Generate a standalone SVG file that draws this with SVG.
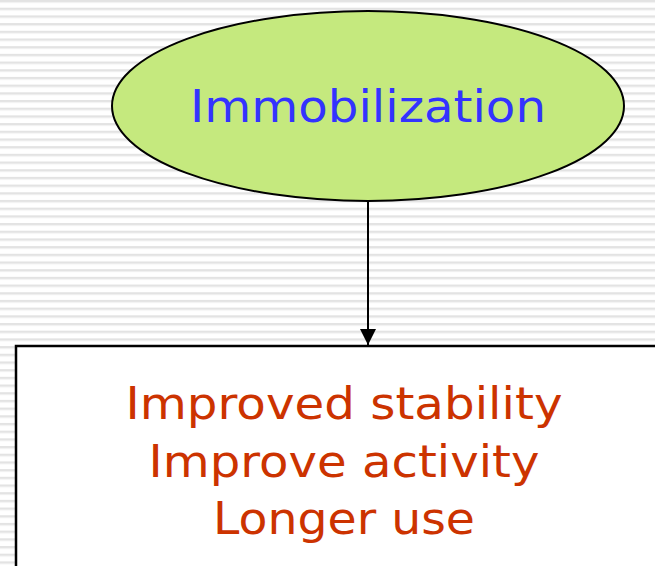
<svg xmlns="http://www.w3.org/2000/svg" width="655" height="566" viewBox="0 0 655 566">
  <defs>
    <!-- faint horizontal ruling of the slide background -->
    <pattern id="ruling" width="655" height="7.69" patternUnits="userSpaceOnUse">
      <rect x="0" y="0" width="655" height="7.69" fill="#ffffff"/>
      <rect x="0" y="0" width="655" height="2.2" fill="#e3e3e3"/>
      <rect x="0" y="2.2" width="655" height="0.8" fill="#f0f0f0"/>
    </pattern>
    <marker id="arrowhead" markerWidth="16" markerHeight="16" viewBox="0 0 16 16" refX="16" refY="8" orient="auto" markerUnits="userSpaceOnUse">
      <path d="M0,0 L16,8 L0,16 Z" fill="#000000"/>
    </marker>
    <style>
      .title { font-family: "DejaVu Sans", Verdana, sans-serif; font-size: 44px; fill: #3333ff; text-anchor: middle; }
      .effect { font-family: "DejaVu Sans", Verdana, sans-serif; font-size: 45px; fill: #cc3300; text-anchor: middle; }
    </style>
  </defs>

  <rect x="0" y="0" width="655" height="566" fill="url(#ruling)"/>

  <g id="connectors">
    <line x1="368" y1="201" x2="368" y2="345" stroke="#000000" stroke-width="2" marker-end="url(#arrowhead)"/>
  </g>

  <g id="node-immobilization">
    <ellipse cx="368" cy="106" rx="256" ry="95" fill="#c5e97e" stroke="#000000" stroke-width="2"/>
    <text class="title" x="368" y="122" textLength="356" lengthAdjust="spacingAndGlyphs">Immobilization</text>
  </g>

  <g id="node-outcomes">
    <rect x="16" y="346" width="700" height="260" fill="#ffffff" stroke="#000000" stroke-width="2.5"/>
    <text class="effect" x="344" y="419" textLength="437" lengthAdjust="spacingAndGlyphs">Improved stability</text>
    <text class="effect" x="344" y="477" textLength="391" lengthAdjust="spacingAndGlyphs">Improve activity</text>
    <text class="effect" x="344" y="534" textLength="262" lengthAdjust="spacingAndGlyphs">Longer use</text>
  </g>
</svg>
